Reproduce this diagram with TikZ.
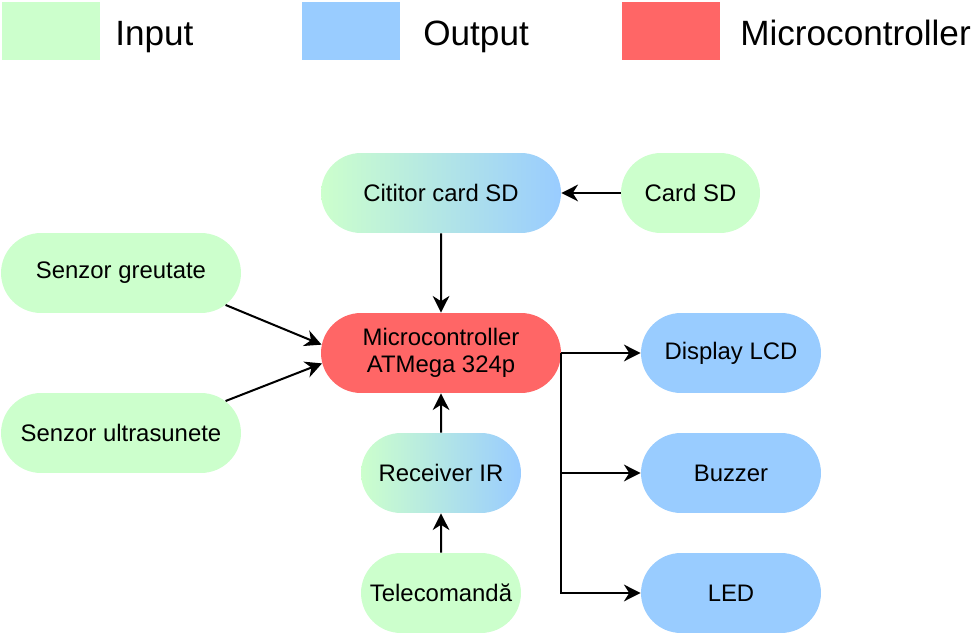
\documentclass[tikz,border=0pt]{standalone}
\usepackage{fontspec}
\setmainfont{Liberation Sans}
\usetikzlibrary{shapes.misc,arrows.meta}
\definecolor{ingreen}{HTML}{CCFFCC}
\definecolor{outblue}{HTML}{99CCFF}
\definecolor{mcred}{HTML}{FF6666}
\tikzset{
	block/.style={rounded rectangle, rounded rectangle arc length=180, minimum height=1.6cm, inner sep=0pt, align=center, font=\fontsize{13.6}{15}\selectfont},
	inblock/.style={block, fill=ingreen},
	outblock/.style={block, fill=outblue},
	mixblock/.style={block, left color=ingreen, right color=outblue},
	legbox/.style={rectangle, minimum width=1.96cm, minimum height=1.16cm, inner sep=0pt},
	legtext/.style={anchor=base west, inner sep=0pt, font=\fontsize{20}{24}\selectfont},
	link/.style={-{Stealth[length=9.5pt,width=9.5pt,inset=3pt]}, line width=1.15pt}
}
\begin{document}
\begin{tikzpicture}[x=0.02cm, y=-0.02cm]
		\useasboundingbox (0,0) rectangle (978,634);
		% legend
		\node[legbox, fill=ingreen] (lgin) at (51,31) {};
		\node[legtext] (lgintxt) at (115,46) {Input};
		\node[legbox, fill=outblue] (lgout) at (351,31) {};
		\node[legtext] (lgouttxt) at (423,46) {Output};
		\node[legbox, fill=mcred] (lgmc) at (671,31) {};
		\node[legtext] (lgmctxt) at (740,45.5) {Microcontroller};
		
		% blocks
		\node[mixblock, minimum width=4.8cm] (cit) at (441,193) {Cititor card SD};
		\node[inblock, minimum width=2.78cm] (card) at (690.5,193) {Card SD};
		\node[inblock, minimum width=4.8cm] (sg) at (121,273) {Senzor greutate};
		\node[block, fill=mcred, minimum width=4.8cm] (mc) at (441,353) {Microcontroller\\ATMega 324p};
		\node[inblock, minimum width=4.8cm] (su) at (121,433) {Senzor ultrasunete};
		\node[outblock, minimum width=3.6cm] (lcd) at (731,353) {Display LCD};
		\node[outblock, minimum width=3.6cm] (buz) at (731,473) {Buzzer};
		\node[outblock, minimum width=3.6cm] (led) at (731,593) {LED};
		\node[mixblock, minimum width=3.2cm] (rir) at (441,473) {Receiver IR};
		\node[inblock, minimum width=3.2cm] (tel) at (441,593) {Telecomandă};
		
		% connections
		\draw[link] (card.west) -- (cit.east);
		\draw[link] (cit) -- (mc);
		\draw[link] (sg.-17) -- (mc.176);
		\draw[link] (su.17) -- (mc.185);
		\draw[link] (rir) -- (mc);
		\draw[link] (tel) -- (rir);
		\draw[link] (mc.east) -- (lcd.west);
		\draw[link] (mc.east) -- (mc.east |- led.west) -- (led.west);
		\draw[link] (mc.east |- buz.west) -- (buz.west);
	\end{tikzpicture}
\end{document}
